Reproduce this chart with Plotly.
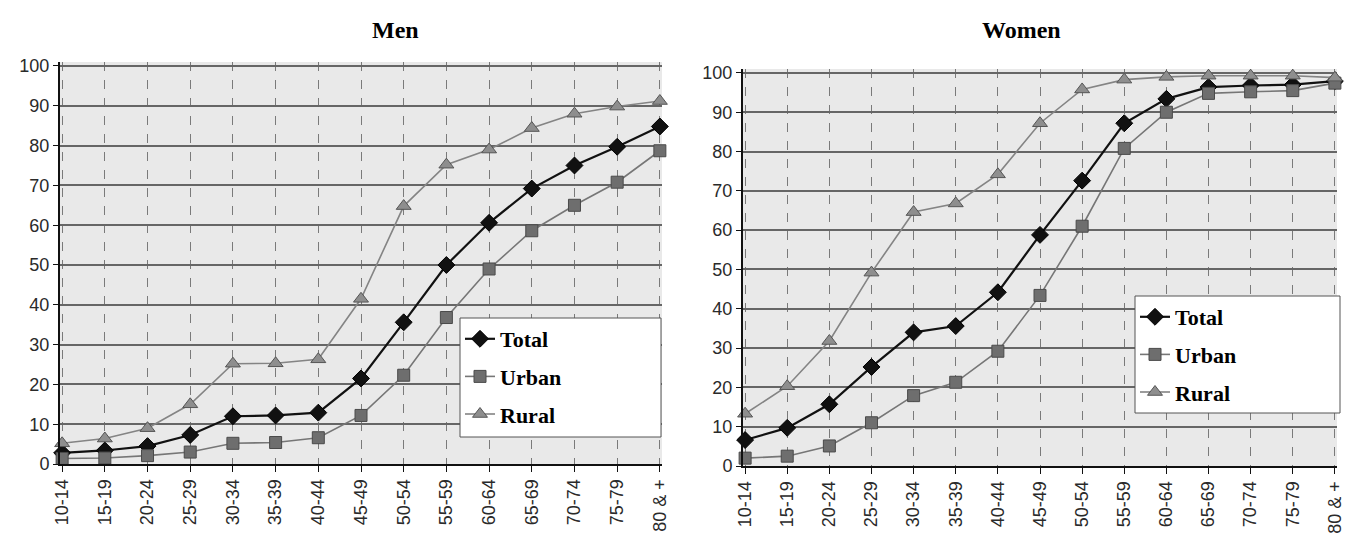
import plotly.graph_objects as go

age_groups = ["10-14", "15-19", "20-24", "25-29", "30-34", "35-39", "40-44",
              "45-49", "50-54", "55-59", "60-64", "65-69", "70-74", "75-79", "80 & +"]

men_total = [2.8, 3.4, 4.5, 7.3, 12.0, 12.2, 12.9, 21.5, 35.6, 50.0, 60.6, 69.2, 75.0, 79.7, 84.8]
men_urban = [1.4, 1.5, 2.1, 3.0, 5.2, 5.4, 6.6, 12.2, 22.3, 36.8, 49.0, 58.6, 65.0, 70.8, 78.7]
men_rural = [5.2, 6.4, 9.0, 15.0, 25.2, 25.3, 26.3, 41.5, 64.8, 75.2, 79.0, 84.4, 88.0, 89.8, 91.2]

women_total = [6.6, 9.7, 15.7, 25.2, 34.0, 35.6, 44.2, 58.8, 72.6, 87.2, 93.4, 96.4, 96.8, 97.0, 97.9]
women_urban = [2.0, 2.5, 5.1, 11.0, 17.9, 21.3, 29.2, 43.4, 61.0, 80.8, 90.0, 94.8, 95.2, 95.5, 97.4]
women_rural = [13.3, 20.3, 31.8, 49.2, 64.6, 66.8, 74.2, 87.2, 95.8, 98.3, 99.0, 99.3, 99.3, 99.3, 98.8]

series_names = ["Total", "Urban", "Rural"]

W, H = 1346, 552

styles = {
    "Total": dict(line=dict(color="#111111", width=2.2),
                  marker=dict(symbol="diamond", size=13, color="#111111",
                              line=dict(color="#000000", width=1))),
    "Urban": dict(line=dict(color="#767676", width=1.6),
                  marker=dict(symbol="square", size=12, color="#6e6e6e",
                              line=dict(color="#4a4a4a", width=1))),
    "Rural": dict(line=dict(color="#848484", width=1.6),
                  marker=dict(symbol="triangle-up", size=13, color="#8e8e8e",
                              line=dict(color="#555555", width=1))),
}

fig = go.Figure()

for name, vals in zip(series_names, [men_total, men_urban, men_rural]):
    fig.add_trace(go.Scatter(x=age_groups, y=vals, name=name, mode="lines+markers",
                             xaxis="x", yaxis="y", legend="legend",
                             legendgroup="m" + name, cliponaxis=False, **styles[name]))
for name, vals in zip(series_names, [women_total, women_urban, women_rural]):
    fig.add_trace(go.Scatter(x=age_groups, y=vals, name=name, mode="lines+markers",
                             xaxis="x2", yaxis="y2", legend="legend2",
                             legendgroup="w" + name, cliponaxis=False, **styles[name]))

tick_font = dict(family="Liberation Sans, Arial", size=18, color="#2a2a2a")

def xax(domain_px, anchor):
    return dict(domain=[domain_px[0] / W, domain_px[1] / W], anchor=anchor,
                type="category", range=[-0.05, 14.05], tickangle=-90,
                tickfont=tick_font, showgrid=True, gridcolor="#7a7a7a", gridwidth=1,
                griddash="dash", showline=True, linecolor="#111111", linewidth=2,
                ticks="outside", ticklen=6, tickcolor="#111111", zeroline=False,
                automargin=False, mirror=False)

def yax(domain_px, anchor):
    return dict(domain=[1 - domain_px[1] / H, 1 - domain_px[0] / H], anchor=anchor,
                range=[0, 101], tickvals=list(range(0, 101, 10)), tickfont=tick_font,
                showgrid=True, gridcolor="#666666", gridwidth=2,
                showline=True, linecolor="#111111", linewidth=2,
                ticks="outside", ticklen=5, tickcolor="#111111", zeroline=False,
                automargin=False)

legend_common = dict(bgcolor="rgba(0,0,0,0)", borderwidth=0,
                     font=dict(family="Liberation Serif, Times New Roman", size=22,
                               color="#000000", weight="bold"),
                     tracegroupgap=6, xanchor="left", yanchor="top",
                     itemwidth=30)

title_font = dict(family="Liberation Serif, Times New Roman", size=24, color="#000000")

def box(x0, y0, x1, y1):
    return dict(type="rect", xref="paper", yref="paper", layer="above",
                x0=x0 / W, x1=x1 / W, y0=1 - y1 / H, y1=1 - y0 / H,
                fillcolor="#ffffff", line=dict(color="#555555", width=1))

fig.update_layout(
    width=W, height=H,
    margin=dict(l=0, r=0, t=0, b=0, autoexpand=False),
    paper_bgcolor="#ffffff",
    plot_bgcolor="#e9e9e9",
    xaxis=xax((60, 662), "y"),
    yaxis=yax((62, 464), "x"),
    xaxis2=xax((743, 1337), "y2"),
    yaxis2=yax((69, 466), "x2"),
    legend=dict(x=460 / W, y=1 - 318 / H, **legend_common),
    legend2=dict(x=1135 / W, y=1 - 296 / H, **legend_common),
    shapes=[box(460, 318, 661, 437), box(1135, 296, 1340, 413)],
    annotations=[
        dict(text="<b>Men</b>", x=370 / W, y=1 - 30 / H, xref="paper", yref="paper",
             yanchor="middle", showarrow=False, font=title_font),
        dict(text="<b>Women</b>", x=1063 / W, y=1 - 30 / H, xref="paper", yref="paper",
             yanchor="middle", showarrow=False, font=title_font),
    ],
)

fig.write_html("out.html", config={"displayModeBar": False},
               post_script="document.body.style.margin='0';document.body.style.padding='0';")
